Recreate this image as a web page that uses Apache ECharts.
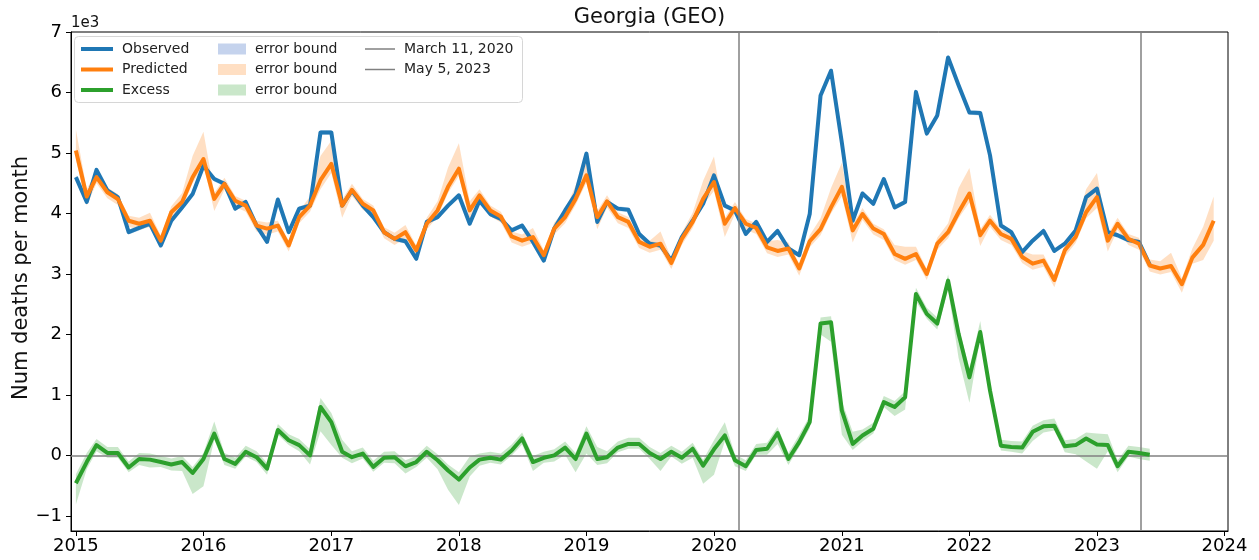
<!DOCTYPE html>
<html><head><meta charset="utf-8">
<script src="https://cdn.jsdelivr.net/npm/echarts@6/dist/echarts.min.js"></script>
<style>html,body{margin:0;padding:0;background:#fff}#c{width:1259px;height:560px}</style>
</head><body><div id="c"></div>
<script>
// ---- data (deaths per month) ----
const startYear = 2015, endYear = 2023;
const months = [];
for (let y = startYear; y <= endYear; y++) for (let m = 1; m <= 12; m++) months.push([y, m]);

const observed = [4600,4190,4720,4380,4270,3690,3760,3830,3470,3880,4100,4320,
  4790,4570,4490,4080,4190,3800,3530,4230,3690,4080,4130,5340,
  5340,4130,4380,4130,3940,3690,3580,3540,3250,3860,3940,4130,
  4300,3830,4210,3990,3910,3720,3800,3530,3220,3750,4050,4320,
  4990,3860,4190,4080,4060,3660,3500,3470,3220,3610,3880,4160,
  4630,4130,4050,3660,3860,3530,3710,3420,3310,3990,5950,6360,
  5170,3880,4330,4160,4570,4100,4190,6010,5320,5620,6580,6120,
  5670,5660,4960,3800,3690,3360,3550,3710,3380,3500,3720,4270,
  4410,3690,3640,3560,3530,3150];

const predicted = [5040,4280,4600,4350,4240,3880,3830,3880,3550,4020,4190,4600,
  4900,4240,4490,4210,4130,3800,3750,3800,3470,3940,4130,4550,
  4820,4130,4390,4160,4050,3690,3580,3690,3390,3830,4050,4440,
  4740,4050,4300,4050,3950,3620,3550,3610,3310,3750,3940,4240,
  4630,3940,4200,3940,3860,3530,3450,3500,3180,3580,3860,4240,
  4520,3830,4090,3830,3760,3440,3380,3420,3090,3540,3740,4100,
  4440,3720,3990,3750,3660,3330,3250,3330,3000,3500,3690,4020,
  4330,3640,3880,3660,3580,3280,3170,3220,2900,3390,3610,4020,
  4270,3550,3830,3580,3500,3140,3090,3130,2830,3270,3480,3880];

const excess = [-460,-110,170,40,40,-200,-60,-70,-110,-150,-110,-290,
  -60,360,-60,-140,60,-30,-220,420,250,170,0,800,
  550,60,-30,30,-190,-40,-30,-180,-110,60,-80,-250,
  -400,-200,-70,-40,-70,80,280,-110,-40,0,130,-60,
  360,-60,-30,130,190,190,40,-60,60,-40,110,-170,
  100,330,-80,-180,90,110,370,-60,220,550,2180,2200,
  740,190,330,440,880,800,960,2670,2340,2180,2890,2010,
  1290,2040,1070,160,140,130,390,480,490,150,170,280,
  180,170,-180,60,40,10];

// prediction error bound widths (above / below the predicted line)
const predErrUp = [350,120,100,80,80,80,100,130,80,100,150,350,
  450,100,100,80,80,80,100,80,80,100,150,400,
  380,100,100,80,80,80,100,120,80,100,150,320,
  420,150,100,80,80,80,100,150,80,100,120,220,
  330,100,100,80,80,80,100,200,80,100,150,300,
  420,100,100,80,80,100,180,100,80,100,180,320,
  400,100,100,80,80,150,200,120,80,100,150,400,
  420,100,100,80,80,100,150,100,80,100,150,380,
  400,100,100,80,100,100,120,220,100,150,300,400];
const predErrDown = [150,150,100,100,100,100,100,100,100,100,100,100,
  100,200,100,100,100,100,100,100,100,100,100,150,
  150,200,100,100,100,100,100,100,100,100,100,100,
  120,180,100,100,100,100,100,100,100,100,100,100,
  120,200,100,100,100,100,100,100,100,100,100,100,
  150,220,100,100,100,100,100,100,120,100,100,100,
  150,200,100,100,100,100,100,100,100,100,100,100,
  150,180,100,100,100,100,100,100,120,100,100,100,
  180,180,100,100,100,100,100,100,140,100,250,330];
const obsErr = 40;

const yTicks = [-1000,0,1000,2000,3000,4000,5000,6000,7000];
const xTickYears = [2015,2016,2017,2018,2019,2020,2021,2022,2023,2024];
const eventNames = ['March 11, 2020','May 5, 2023'];
const eventDates = [[2020,3,11],[2023,5,5]];

// ---- helpers ----
const ts = (y,m,d) => Date.UTC(y, m - 1, d);
const monthTs = months.map(a => ts(a[0], a[1], 1));
const pts = arr => arr.map((v, i) => [monthTs[i], v]);

function bandSeries(name, vals, up, down, color) {
  const rows = vals.map((v, i) => [monthTs[i], v - down(i), v + up(i)]);
  return {
    name: name, type: 'custom', data: rows, encode: { x: 0, y: [1, 2] }, clip: true, z: 1, silent: true,
    color: color, itemStyle: { color: color },
    renderItem: function (params, api) {
      if (params.dataIndex !== 0) return null;
      const topPts = rows.map(r => api.coord([r[0], r[2]]));
      const botPts = rows.map(r => api.coord([r[0], r[1]])).reverse();
      return { type: 'polygon', shape: { points: topPts.concat(botPts) }, style: { fill: color }, silent: true };
    }
  };
}

const BLUE = '#1f77b4', ORANGE = '#ff7f0e', GREEN = '#2ca02c', GRAY = '#808080';
const BLUE_A = 'rgba(31,119,180,0.25)', ORANGE_A = 'rgba(255,127,14,0.25)', GREEN_A = 'rgba(44,160,44,0.25)';
const EB1 = 'error bound', EB2 = 'error bound\u200b', EB3 = 'error bound\u200b\u200b';
const FONT = 'DejaVu Sans';

const series = [
  bandSeries(EB1, observed, () => obsErr, () => obsErr, BLUE_A),
  bandSeries(EB2, predicted, i => predErrUp[i], i => predErrDown[i], ORANGE_A),
  bandSeries(EB3, excess, i => predErrDown[i], i => predErrUp[i], GREEN_A),
  { name: 'Observed', type: 'line', data: pts(observed), symbol: 'none', color: BLUE,
    lineStyle: { width: 4, color: BLUE, join: 'round' }, z: 3 },
  { name: 'Predicted', type: 'line', data: pts(predicted), symbol: 'none', color: ORANGE,
    lineStyle: { width: 4, color: ORANGE, join: 'round' }, z: 4 },
  { name: 'Excess', type: 'line', data: pts(excess), symbol: 'none', color: GREEN,
    lineStyle: { width: 4, color: GREEN, join: 'round' }, z: 5 },
  { name: eventNames[0], type: 'line', data: [], symbol: 'none', color: GRAY,
    markLine: { silent: true, symbol: 'none', label: { show: false },
      lineStyle: { color: GRAY, width: 1.5, type: 'solid' },
      data: [{ xAxis: ts(...eventDates[0]) }, { yAxis: 0 }] }, z: 6 },
  { name: eventNames[1], type: 'line', data: [], symbol: 'none', color: GRAY,
    markLine: { silent: true, symbol: 'none', label: { show: false },
      lineStyle: { color: GRAY, width: 1.5, type: 'solid' },
      data: [{ xAxis: ts(...eventDates[1]) }] }, z: 6 }
];

const legendText = { fontFamily: FONT, fontSize: 14, color: '#222', lineHeight: 14, padding: [0, 0, 0, 4] };
const stripZW = n => n.replace(/\u200b/g, '');
const xTickTs = xTickYears.map(y => ts(y, 1, 1));
const legendBase = { orient: 'vertical', top: 42, padding: 0, itemGap: 6.5, selectedMode: false, textStyle: legendText, z: 10 };

const option = {
  animation: false,
  backgroundColor: '#fff',
  textStyle: { fontFamily: FONT },
  grid: { left: 71, right: 31, top: 32, bottom: 29, show: true, borderColor: '#000', borderWidth: 1, backgroundColor: 'transparent' },
  xAxis: {
    type: 'value', min: ts(2014, 12, 18), max: ts(2024, 1, 11), scale: true,
    axisLine: { onZero: false, lineStyle: { color: '#000', width: 1 } },
    axisTick: { show: true, length: 5, lineStyle: { color: '#000' }, customValues: xTickTs },
    axisLabel: { customValues: xTickTs, formatter: v => String(new Date(v).getUTCFullYear()),
      fontFamily: FONT, fontSize: 18, color: '#000', margin: 6 },
    splitLine: { show: false }, minorTick: { show: false }
  },
  yAxis: {
    type: 'value', min: -1250, max: 7000,
    axisLine: { show: true, lineStyle: { color: '#000', width: 1 } },
    axisTick: { show: true, length: 5, lineStyle: { color: '#000' }, customValues: yTicks },
    axisLabel: { customValues: yTicks, formatter: v => (v < 0 ? '\u2212' : '') + Math.abs(v / 1000),
      fontFamily: FONT, fontSize: 18, color: '#000', margin: 9 },
    splitLine: { show: false }
  },
  legend: [
    Object.assign({}, legendBase, { left: 81, itemWidth: 32, itemHeight: 4,
      data: [{ name: 'Observed', icon: 'rect', itemStyle: { color: BLUE } },
             { name: 'Predicted', icon: 'rect', itemStyle: { color: ORANGE } },
             { name: 'Excess', icon: 'rect', itemStyle: { color: GREEN } }] }),
    Object.assign({}, legendBase, { left: 218, itemWidth: 28, itemHeight: 11, formatter: stripZW,
      data: [{ name: EB1, icon: 'rect', itemStyle: { color: 'rgba(64,108,196,0.3)' } },
             { name: EB2, icon: 'rect', itemStyle: { color: ORANGE_A } },
             { name: EB3, icon: 'rect', itemStyle: { color: GREEN_A } }] }),
    Object.assign({}, legendBase, { left: 365, itemWidth: 30, itemHeight: 1.5,
      data: [{ name: eventNames[0], icon: 'rect', itemStyle: { color: GRAY } },
             { name: eventNames[1], icon: 'rect', itemStyle: { color: GRAY } }] })
  ],
  graphic: [
    { type: 'rect', z: 8, shape: { x: 74.5, y: 36.5, width: 448, height: 66, r: 4 },
      style: { fill: 'rgba(255,255,255,0.8)', stroke: '#d6d6d6', lineWidth: 1 } },
    { type: 'text', x: 649.5, y: 18, z: 10,
      style: { text: 'Georgia (GEO)', font: '21px "DejaVu Sans"', fill: '#111', textAlign: 'center', textVerticalAlign: 'middle' } },
    { type: 'text', x: 71, y: 23, z: 10,
      style: { text: '1e3', font: '15px "DejaVu Sans"', fill: '#111', textAlign: 'left', textVerticalAlign: 'middle' } },
    { type: 'text', x: 22, y: 278, rotation: Math.PI / 2, z: 10,
      style: { text: 'Num deaths per month', font: '21px "DejaVu Sans"', fill: '#111', textAlign: 'center', textVerticalAlign: 'middle' } }
  ],
  series: series
};
const chart = echarts.init(document.getElementById('c'), null, { renderer: 'canvas' });
chart.setOption(option);
</script></body></html>
